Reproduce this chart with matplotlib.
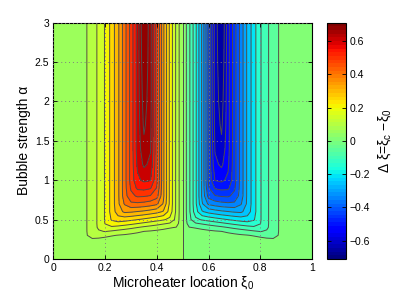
"""
Δξ = ξc − ξ0 over microheater location and bubble strength (filled contours + colorbar)
"""

import matplotlib
matplotlib.use("Agg")
import matplotlib.pyplot as plt
import numpy as np
from matplotlib import colors as mcolors
from matplotlib.cm import ScalarMappable

plt.rcParams["font.family"] = ["Liberation Sans", "DejaVu Sans"]
plt.rcParams["mathtext.default"] = "regular"

# ── data ──
xi0_left = [0.0, 0.05, 0.1, 0.125, 0.15, 0.175, 0.2, 0.225, 0.25, 0.275,
            0.3, 0.325, 0.35, 0.375, 0.4, 0.425, 0.45, 0.475, 0.5]
xi0_right = [0.525, 0.55, 0.575, 0.6, 0.625, 0.65, 0.675, 0.7, 0.725,
             0.75, 0.775, 0.8, 0.825, 0.85, 0.875, 0.9, 0.95, 1.0]
alpha = [0.0, 0.2, 0.25, 0.3, 0.35, 0.4, 0.45, 0.5, 0.6, 0.7, 0.8, 0.9,
         1.0, 1.2, 1.4, 1.7, 2.0, 2.5, 3.0]

dxi_left = [
    [.010, .011, .011, .011, .011, .011, .011, .011, .011, .011, .011, .011, .010, .010, .010, .010, .008, .005, 0],
    [.010, .012, .020, .030, .028, .026, .024, .021, .019, .017, .016, .014, .012, .012, .012, .012, .011, .008, 0],
    [.010, .012, .020, .040, .046, .042, .037, .032, .029, .027, .025, .022, .020, .018, .016, .015, .013, .010, 0],
    [.010, .012, .020, .045, .066, .070, .062, .054, .048, .044, .039, .034, .030, .028, .026, .023, .021, .019, 0],
    [.010, .012, .020, .045, .074, .095, .102, .094, .085, .077, .068, .059, .050, .046, .041, .036, .032, .029, 0],
    [.010, .012, .020, .045, .075, .108, .133, .140, .132, .122, .112, .101, .090, .081, .072, .063, .054, .048, 0],
    [.010, .012, .020, .045, .075, .110, .152, .180, .180, .172, .162, .151, .140, .129, .118, .106, .095, .075, 0],
    [.010, .012, .020, .045, .075, .110, .155, .205, .226, .220, .211, .201, .190, .179, .168, .156, .138, .085, 0],
    [.010, .012, .020, .045, .075, .110, .155, .220, .276, .310, .306, .298, .290, .279, .266, .245, .180, .090, 0],
    [.010, .012, .020, .045, .075, .110, .155, .220, .290, .355, .390, .390, .385, .375, .360, .295, .190, .090, 0],
    [.010, .012, .020, .045, .075, .110, .155, .220, .290, .378, .435, .458, .455, .447, .418, .310, .190, .090, 0],
    [.010, .012, .020, .045, .075, .110, .155, .220, .290, .380, .458, .510, .515, .505, .445, .310, .190, .090, 0],
    [.010, .012, .020, .045, .075, .110, .155, .220, .290, .380, .470, .540, .560, .552, .460, .310, .190, .090, 0],
    [.010, .012, .020, .045, .075, .110, .155, .220, .290, .380, .470, .560, .610, .588, .460, .310, .190, .090, 0],
    [.010, .012, .020, .045, .075, .110, .155, .220, .290, .380, .470, .570, .635, .605, .460, .310, .190, .090, 0],
    [.010, .012, .020, .045, .075, .110, .155, .220, .290, .380, .470, .570, .660, .615, .460, .310, .190, .090, 0],
    [.010, .012, .020, .045, .075, .110, .155, .220, .290, .380, .470, .570, .675, .620, .460, .310, .190, .090, 0],
    [.010, .012, .020, .045, .075, .110, .155, .220, .290, .380, .470, .570, .695, .620, .460, .310, .190, .090, 0],
    [.010, .012, .020, .045, .075, .110, .155, .220, .290, .380, .470, .570, .710, .620, .460, .310, .190, .090, 0],
]

dxi_right = [
    [-.005, -.008, -.010, -.010, -.010, -.010, -.011, -.011, -.011, -.011, -.011, -.011, -.011, -.011, -.011, -.011, -.011, -.010],
    [-.008, -.011, -.012, -.012, -.012, -.012, -.014, -.016, -.017, -.019, -.021, -.024, -.026, -.028, -.030, -.020, -.012, -.010],
    [-.010, -.013, -.015, -.016, -.018, -.020, -.022, -.025, -.027, -.029, -.032, -.037, -.042, -.046, -.040, -.020, -.012, -.010],
    [-.019, -.021, -.023, -.026, -.028, -.030, -.034, -.039, -.044, -.048, -.054, -.062, -.070, -.066, -.045, -.020, -.012, -.010],
    [-.029, -.032, -.036, -.041, -.046, -.050, -.059, -.068, -.077, -.085, -.094, -.102, -.095, -.074, -.045, -.020, -.012, -.010],
    [-.048, -.054, -.063, -.072, -.081, -.090, -.101, -.112, -.122, -.132, -.140, -.133, -.108, -.075, -.045, -.020, -.012, -.010],
    [-.075, -.095, -.106, -.118, -.129, -.140, -.151, -.162, -.172, -.180, -.180, -.152, -.110, -.075, -.045, -.020, -.012, -.010],
    [-.085, -.138, -.156, -.168, -.179, -.190, -.201, -.211, -.220, -.226, -.205, -.155, -.110, -.075, -.045, -.020, -.012, -.010],
    [-.090, -.180, -.245, -.266, -.279, -.290, -.298, -.306, -.310, -.276, -.220, -.155, -.110, -.075, -.045, -.020, -.012, -.010],
    [-.090, -.190, -.295, -.360, -.375, -.385, -.390, -.390, -.355, -.290, -.220, -.155, -.110, -.075, -.045, -.020, -.012, -.010],
    [-.090, -.190, -.310, -.418, -.447, -.455, -.458, -.435, -.378, -.290, -.220, -.155, -.110, -.075, -.045, -.020, -.012, -.010],
    [-.090, -.190, -.310, -.445, -.505, -.515, -.510, -.458, -.380, -.290, -.220, -.155, -.110, -.075, -.045, -.020, -.012, -.010],
    [-.090, -.190, -.310, -.460, -.552, -.560, -.540, -.470, -.380, -.290, -.220, -.155, -.110, -.075, -.045, -.020, -.012, -.010],
    [-.090, -.190, -.310, -.460, -.588, -.610, -.560, -.470, -.380, -.290, -.220, -.155, -.110, -.075, -.045, -.020, -.012, -.010],
    [-.090, -.190, -.310, -.460, -.605, -.635, -.570, -.470, -.380, -.290, -.220, -.155, -.110, -.075, -.045, -.020, -.012, -.010],
    [-.090, -.190, -.310, -.460, -.615, -.660, -.570, -.470, -.380, -.290, -.220, -.155, -.110, -.075, -.045, -.020, -.012, -.010],
    [-.090, -.190, -.310, -.460, -.620, -.675, -.570, -.470, -.380, -.290, -.220, -.155, -.110, -.075, -.045, -.020, -.012, -.010],
    [-.090, -.190, -.310, -.460, -.620, -.695, -.570, -.470, -.380, -.290, -.220, -.155, -.110, -.075, -.045, -.020, -.012, -.010],
    [-.090, -.190, -.310, -.460, -.620, -.710, -.570, -.470, -.380, -.290, -.220, -.155, -.110, -.075, -.045, -.020, -.012, -.010],
]

cbar_ticks = [-0.6, -0.4, -0.2, 0, 0.2, 0.4, 0.6]
vmin, vmax = -0.71, 0.71


def main():
    xi0 = np.array(xi0_left + xi0_right)
    a = np.array(alpha)
    z = np.hstack([np.array(dxi_left), np.array(dxi_right)])

    cmap = plt.get_cmap("jet", 64)
    norm = mcolors.Normalize(vmin, vmax)
    lines = np.round(np.arange(-0.65, 0.651, 0.05), 2)
    fill_levels = np.concatenate([[vmin], lines, [vmax]])
    # each band takes the colour of its upper level (top band a bit lighter)
    band_colors = [cmap(norm(min(hi, 0.67))) for hi in fill_levels[1:]]

    fig = plt.figure(figsize=(3.99, 2.99), dpi=100)
    ax = fig.add_axes([0.134, 0.134, 0.648, 0.790])
    ax.contourf(xi0, a, z, levels=fill_levels, colors=band_colors)
    ax.contour(xi0, a, z, levels=lines, colors="#4d4d4d", linewidths=0.7,
               linestyles="solid")

    ax.set_xlim(0, 1)
    ax.set_ylim(0, 3)
    ax.set_xticks([0, 0.2, 0.4, 0.6, 0.8, 1])
    ax.set_xticklabels(["0", "0.2", "0.4", "0.6", "0.8", "1"])
    ax.set_yticks([0, 0.5, 1, 1.5, 2, 2.5, 3])
    ax.set_yticklabels(["0", "0.5", "1", "1.5", "2", "2.5", "3"])
    ax.tick_params(direction="in", length=3, width=0.6, labelsize=7.5,
                   top=True, right=True, pad=3)
    ax.grid(True, linestyle=(0, (1, 3)), color="#7f7f7f", linewidth=0.7)
    ax.set_axisbelow(False)
    for s in ax.spines.values():
        s.set_linewidth(0.8)
    ax.set_xlabel("Microheater location ξ$_0$", fontsize=10, labelpad=1)
    ax.set_ylabel("Bubble strength α", fontsize=10, labelpad=3)

    cax = fig.add_axes([0.8195, 0.134, 0.047, 0.790])
    sm = ScalarMappable(norm=norm, cmap=cmap)
    cb = fig.colorbar(sm, cax=cax, ticks=cbar_ticks)
    cb.ax.set_yticklabels(["\u22120.6", "\u22120.4", "\u22120.2", "0",
                           "0.2", "0.4", "0.6"])
    cb.ax.tick_params(direction="in", length=3, width=0.6, labelsize=7.5,
                      left=True, right=True, pad=3)
    cb.outline.set_linewidth(0.8)
    cb.set_label("Δ ξ=ξ$_c$ \u2212ξ$_0$", fontsize=10, labelpad=4)

    fig.savefig("out.png", dpi=100)
    plt.close(fig)


if __name__ == "__main__":
    main()
